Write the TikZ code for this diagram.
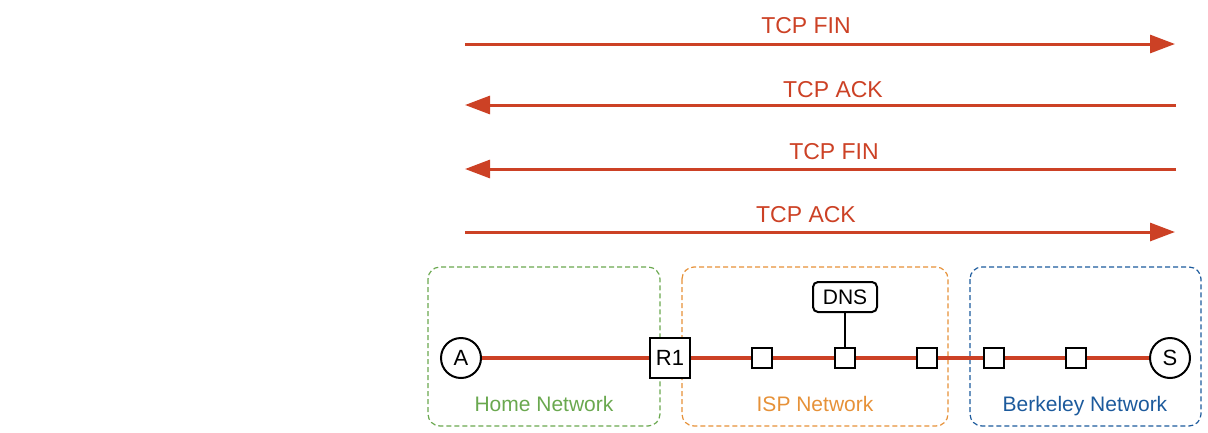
\documentclass[tikz,border=0pt]{standalone}
\usepackage{fontspec}
\setmainfont{Liberation Sans}
\usetikzlibrary{arrows.meta}
\definecolor{tcpred}{HTML}{CC4125}
\definecolor{homegreen}{HTML}{6AA84F}
\definecolor{isporange}{HTML}{E69138}
\definecolor{berkblue}{HTML}{1C5A9C}
\tikzset{
  msg/.style={draw=tcpred, line width=3pt, -{Triangle[length=25pt,width=18pt]}},
  msglabel/.style={text=tcpred, font=\fontsize{23}{23}\selectfont, inner sep=0pt, anchor=base},
  netbox/.style={draw, dashed, line width=1.2pt, rounded corners=12pt, dash pattern=on 5pt off 3pt},
  netlabel/.style={font=\fontsize{21}{21}\selectfont, inner sep=0pt, anchor=base},
  host/.style={circle, draw=black, line width=2pt, fill=white, minimum size=40pt, inner sep=0pt, font=\fontsize{22}{22}\selectfont},
  router/.style={rectangle, draw=black, line width=2pt, fill=white, minimum size=40pt, inner sep=0pt, font=\fontsize{22}{22}\selectfont},
  hop/.style={rectangle, draw=black, line width=2pt, fill=white, minimum size=20pt, inner sep=0pt},
  dnsbox/.style={rectangle, rounded corners=5pt, draw=black, line width=2pt, fill=white, minimum width=64pt, minimum height=30pt, inner sep=0pt, font=\fontsize{21}{21}\selectfont},
  link/.style={draw=tcpred, line width=3.5pt},
}
\begin{document}
\begin{tikzpicture}[x=1pt,y=-1pt]
\useasboundingbox (0,0) rectangle (1208,432);
% arrows
\coordinate (m1l) at (465,44);  \coordinate (m1r) at (1175,44);
\coordinate (m2l) at (465,105); \coordinate (m2r) at (1176,105);
\coordinate (m3l) at (465,169); \coordinate (m3r) at (1176,169);
\coordinate (m4l) at (465,232); \coordinate (m4r) at (1175,232);
\draw[msg] (m1l) -- (m1r);
\draw[msg] (m2r) -- (m2l);
\draw[msg] (m3r) -- (m3l);
\draw[msg] (m4l) -- (m4r);
\node[msglabel] (l1) at (806,33) {TCP FIN};
\node[msglabel] (l2) at (833,97) {TCP ACK};
\node[msglabel] (l3) at (834,159) {TCP FIN};
\node[msglabel] (l4) at (806,222) {TCP ACK};
% network boxes
\draw[netbox, draw=homegreen] (428,267) rectangle (660,426);
\draw[netbox, draw=isporange] (682,267) rectangle (948,426);
\draw[netbox, draw=berkblue] (970,267) rectangle (1201,426);
\node[netlabel, text=homegreen] (hn) at (544,411) {Home Network};
\node[netlabel, text=isporange] (in) at (815,411) {ISP Network};
\node[netlabel, text=berkblue] (bn) at (1085,411) {Berkeley Network};
% nodes
\node[host] (A) at (461,358) {A};
\node[router] (R1) at (670,358) {R1};
\node[hop] (h1) at (762,358) {};
\node[hop] (h2) at (845,358) {};
\node[hop] (h3) at (927,358) {};
\node[hop] (h4) at (994,358) {};
\node[hop] (h5) at (1076,358) {};
\node[host] (S) at (1170,358) {S};
\node[dnsbox] (dns) at (845,297) {DNS};
% links
\draw[link] (A) -- (R1);
\draw[link] (R1) -- (h1);
\draw[link] (h1) -- (h2);
\draw[link] (h2) -- (h3);
\draw[link] (h3) -- (h4);
\draw[link] (h4) -- (h5);
\draw[link] (h5) -- (S);
\draw[line width=2pt] (dns) -- (h2);
\end{tikzpicture}
\end{document}
